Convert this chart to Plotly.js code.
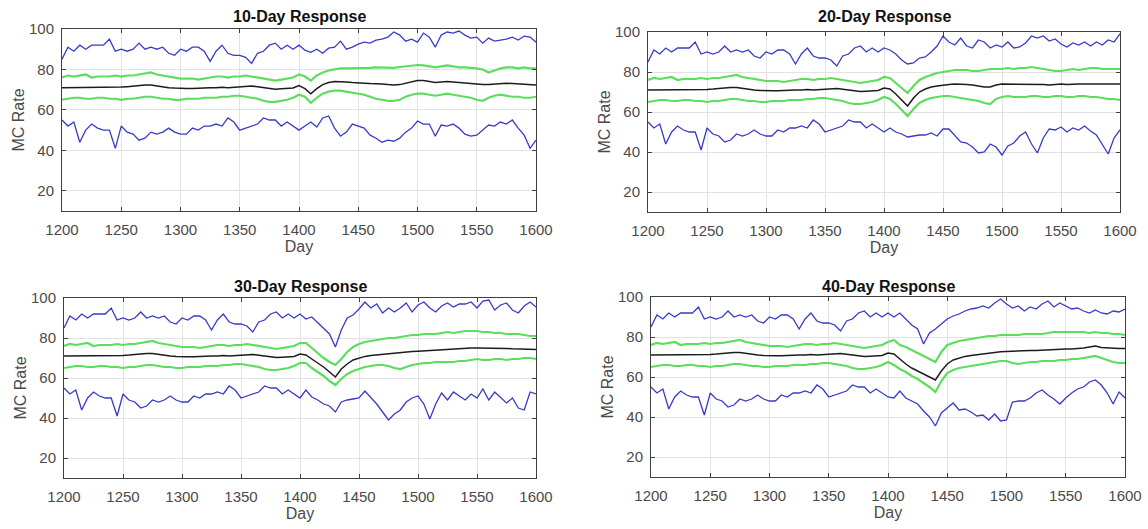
<!DOCTYPE html>
<html><head><meta charset="utf-8">
<script src="https://cdn.plot.ly/plotly-3.0.1.min.js"></script>
<style>html,body{margin:0;padding:0;background:#fff}#chart{width:1148px;height:529px}</style>
</head><body><div id="chart"></div>
<script>
// Days (x values)
const daysBase = [1200,1205,1210,1215,1220,1225,1230,1235,1240,1245,1250,1255,1260,1265,1270,1275,1280,1285,1290,1295,1300,1305,1310,1315,1320,1325,1330,1335,1340,1345,1350,1355,1360,1365,1370,1375,1380,1385,1390,1395,1400];
const daysTail = [1405,1410,1415,1420,1425,1430,1435,1440,1445,1450,1455,1460,1465,1470,1475,1480,1485,1490,1495,1500,1505,1510,1515,1520,1525,1530,1535,1540,1545,1550,1555,1560,1565,1570,1575,1580,1585,1590,1595,1600];

// Shared history 1200-1400 (identical in all four panels)
const baseUpperBlue  = [85,91,89,92,90,92,92,92,95,89,90,89,90,93,90,91,90,91,88,87,90,89,91,91,89,84,89,92,88,87,87,86,83,88,89,92,93,90,92,90,92];
const baseUpperGreen = [76,77,76.5,77,77.5,76,76.5,76.5,76.5,77,76.5,77,77,77.5,78,78.5,77.5,77,76.5,76,75.5,75.5,75.5,75,75.5,76,76.5,76.5,76,76.5,76.5,77,76.5,76,75.5,75,74.5,75,75.5,76,77.5];
const baseMean       = [71,71,71,71.3,71,71,71,71.2,71.3,71.3,71.3,71.5,71.8,72,72.3,72.3,71.8,71.3,71,70.8,70.6,70.6,70.6,70.8,71,71,71,71.2,71,71.2,71.4,71.6,71.8,71.4,71,70.5,70.2,70.4,70.5,70.8,72];
const baseLowerGreen = [65,65.5,66,66,65.5,65.5,66,66,65.5,65.5,65,65.5,65.5,66,66.5,66.5,66,65.5,65.5,65,65,65.5,65.5,65.5,66,66,66,66.5,66.5,67,67,66.5,66,65.5,64.5,64,64,64.5,65,66,67.5];
const baseLowerBlue  = [55,52,54,44,50,53,51,50,50,41,52,49,48,45,46,49,48,49,51,49,48,48,51,50,52,52,53,52,56,54,50,51,52,53,56,55,55,52,54,52,50];

// 10-Day response, 1405-1600
const p10UpperBlue  = [89.5,88.5,90,88,90.5,91,94,90,91,92.5,93.5,93,94.5,95,96,98.5,97,94,95,93.5,98,96,91,97,98.5,98,99,97,95.5,96,93,95.5,94,94.5,95,96,94.5,96.5,96,93.5];
const p10UpperGreen = [76.5,74.5,77,78.5,79.5,80,80.5,80.5,80.5,80.5,80.5,80.8,81,81,81,80.8,81.2,81.5,82,82.2,82,81.5,81,81.5,82,81.5,81,81,80.8,80.5,80,78.5,79.5,80.5,81,81,80.5,81,80.5,80.5];
const p10Mean       = [70.5,68,70.5,72.5,73.5,74,74,73.8,73.5,73.5,73.2,73,73,72.8,72.5,72.3,72.5,73.2,74,74.5,74.5,74,73.5,73.8,74,73.8,73.5,73.2,73,72.5,72.5,72.5,72.8,73,73.2,73,72.8,72.5,72.3,72.3];
const p10LowerGreen = [66.5,63.5,66,68,69,69.5,69.5,69,68.5,68,67.5,66.5,65.5,65,64.5,64.5,65,66.5,67.5,68,68,67.5,67,67.5,68,67.5,67,66.5,66,65,64.5,66,67,67.5,67,66.5,66.5,66,66,66.5];
const p10LowerBlue  = [52,54,51.5,56,57,51,47,49,53,52,51,47.5,46,44,45,44.5,46,49,51,54.5,53,53,47,52.5,52,53,51,48,47,47.5,50,52.5,52,54,53,55,51,47.5,41,45];

// 20-Day response, 1405-1600
const p20UpperBlue  = [91,89,86,84,84.5,87,87.5,90,93,98,95,93.5,97,93,92,96,95,92,93.5,92.5,95,92,92.5,94.5,98,97,98,95.5,96.5,94,92.5,94.5,93.5,95,93,95,93.5,96,95,99];
const p20UpperGreen = [77,74.5,72,69.5,73,76,77.5,78.5,79.5,80,80.5,81,81,81,80.5,80.5,81,81.5,81.5,81.5,82,81.5,82,82,82.5,82,81.5,81,80.5,80.5,81,81.5,81,81.5,82,82,81.5,81.5,81.5,81.5];
const p20Mean       = [71.5,69,66,63,67,70,71.5,72.5,73,73.5,73.8,74,74,73.8,73.5,73,72.5,72.5,73.5,74,74,74,74,74,74,74,73.8,73.5,73.8,74,73.8,74,74,74,74,74,74,74,74,74];
const p20LowerGreen = [66.5,64,61,58,61.5,64.5,66,67,67.5,68,68,67.5,67,66.5,66,65.5,64.5,64,66.5,67.5,68,67.5,67.5,67.5,68,68,67.5,67.5,68,68,67.5,67.5,68,68,67.5,67.5,67,66.5,66.5,66];
const p20LowerBlue  = [52,50,49,47.5,48,48.5,48.5,49.5,48,51.5,51.5,48,45,44.5,42.5,39.5,40,44,42.5,38.5,43,44.5,48,50,44,39.5,47,51.5,51,52.5,50,52,51,53,50.5,48.5,44,39,47,51];

// 30-Day response, 1405-1600
const p30UpperBlue  = [89.5,90.5,87.5,85,82,75.5,84,90,91.5,94.5,98,95,97,92.5,95,93,95,97.5,93,96.5,98,95,93,96,97.5,95.5,97,97,98,95,98.5,99,94,96.5,97.5,94,92.5,96,98,95.5];
const p30UpperGreen = [77.5,75,72.5,70,68,66.5,69.5,73,75.5,77,78,78.5,79,79.5,80,80,80.5,81,81.5,81.5,82,82,82,82.5,83,82.5,83,83.5,83.5,83.5,83,83,82.5,82.5,82,82,82,81.5,81,81];
const p30Mean       = [71.5,69.5,67.5,65.5,63,60.5,64.5,67,69,70,70.8,71.3,71.6,72,72.2,72.5,72.7,73,73.2,73.4,73.6,73.8,74,74.2,74.4,74.6,74.8,75,75,75,75,75,75,75,74.8,74.6,74.5,74.3,74.2,74.2];
const p30LowerGreen = [67.5,65,63,61,58.5,56.5,59.5,62,63.5,64.5,65.5,66,66.5,66.5,66,65,64.5,65.5,66.5,67,67.5,67.5,68,68,68,68,68.5,68.5,69,69.5,69,69,69.5,69.5,69,69.5,69.5,70,70,69.5];
const p30LowerBlue  = [54,50.5,49,47,46,43,48,49,49.5,50,53.5,50.5,47,43,39,42,44,48,50,51,47,39.5,47,52.5,49,53,51,49,52,50,54.5,49,53,50,47.5,50,45,44,53,52];

// 40-Day response, 1405-1600
const p40UpperBlue  = [90,92,89,86,84,76.5,82,84,86.5,89,90.5,91.5,93,94,94.5,95.5,94.5,97,99,96.5,94.5,95.5,93,95,94,96.5,98,95,97,95.5,94,94.5,93,92,93.5,92,91.5,93,92.5,94];
const p40UpperGreen = [78.5,76,75,73.5,72,70.5,69,67.5,72.5,76,77,78,78.5,79,79.5,80,80.5,80.5,81,81,81,81,81.5,81.5,81.5,81.5,82,82.5,82.5,82.5,82.5,82.5,82.5,82,82.5,82,82,81.5,81.5,81];
const p40Mean       = [71.5,69,66.5,64.5,63,61.5,60,58.5,63,66.5,68.5,69.5,70.3,70.8,71.2,71.5,72,72.3,72.6,72.8,73,73,73.2,73.3,73.3,73.5,73.5,73.8,73.8,74,74,74.2,74.5,75,75.5,74.8,74.5,74.3,74.2,74.2];
const p40LowerGreen = [66,64,62.5,60.5,59,57,55,52.5,58,62,63.5,64.5,65,65.5,66,66.5,67,67.5,68,68,67,66.5,67,67.5,67.5,68,68,68,68.5,68.5,69,69,69.5,70,70.5,69.5,68.5,67.5,67,67];
const p40LowerBlue  = [49.5,53,49.5,48,46.5,43,40,35.5,42,44.5,47,43.5,44,42.5,40.5,41,38.5,41.5,38,38.5,47.5,48,48,49.5,52,53.5,51,49,46.5,49.5,52,54,55,57.5,58.5,56,52,46.5,52.5,49.5];

const panelTitles = ['10-Day Response','20-Day Response','30-Day Response','40-Day Response'];
const xTicks = [1200,1250,1300,1350,1400,1450,1500,1550,1600];
const yTicks = [20,40,60,80,100];

const panels = [
  {up:p10UpperBlue, ug:p10UpperGreen, m:p10Mean, lg:p10LowerGreen, lb:p10LowerBlue},
  {up:p20UpperBlue, ug:p20UpperGreen, m:p20Mean, lg:p20LowerGreen, lb:p20LowerBlue},
  {up:p30UpperBlue, ug:p30UpperGreen, m:p30Mean, lg:p30LowerGreen, lb:p30LowerBlue},
  {up:p40UpperBlue, ug:p40UpperGreen, m:p40Mean, lg:p40LowerGreen, lb:p40LowerBlue}
];

const BLUE = '#3a3ac8', GREEN = '#5cde5c', BLACK = '#1c1c1c';
const FONT = 'Liberation Sans, Arial, sans-serif';

const domains = [
  {x:[62/1148, 536/1148],  y:[(529-211)/529, (529-29)/529]},
  {x:[648/1148, 1120/1148], y:[(529-212)/529, (529-32)/529]},
  {x:[64/1148, 536/1148],  y:[(529-478)/529, (529-298)/529]},
  {x:[651/1148, 1125/1148], y:[(529-477)/529, (529-297)/529]}
];
const titleY = [17, 17, 286, 286];

const days = daysBase.concat(daysTail);
const traces = [];
const layout = {
  width:1148, height:529, margin:{l:0,r:0,t:0,b:0},
  paper_bgcolor:'#fff', plot_bgcolor:'#fff', showlegend:false,
  font:{family:FONT, color:'#444'}, annotations:[]
};

panels.forEach((p, i) => {
  const n = i === 0 ? '' : String(i + 1);
  const xa = 'x' + n, ya = 'y' + n;
  const series = [
    [baseUpperBlue.concat(p.up), BLUE, 1.3],
    [baseLowerBlue.concat(p.lb), BLUE, 1.3],
    [baseUpperGreen.concat(p.ug), GREEN, 2.2],
    [baseLowerGreen.concat(p.lg), GREEN, 2.2],
    [baseMean.concat(p.m), BLACK, 1.5]
  ];
  series.forEach(s => traces.push({
    type:'scatter', mode:'lines', x:days, y:s[0], xaxis:xa, yaxis:ya,
    line:{color:s[1], width:s[2]}, hoverinfo:'skip'
  }));
  const common = {
    showgrid:true, gridcolor:'#e2e2e2', gridwidth:1, zeroline:false,
    showline:true, linecolor:'#404040', linewidth:1, mirror:'ticks',
    ticks:'inside', ticklen:4, tickcolor:'#404040',
    tickfont:{family:FONT, size:15, color:'#4a4a4a'}
  };
  layout['xaxis' + n] = Object.assign({}, common, {
    domain:domains[i].x, anchor:ya, range:[1200,1600], tickvals:xTicks,
    ticklabelstandoff:5,
    title:{text:'Day', font:{family:FONT, size:16, color:'#4a4a4a'}, standoff:2}
  });
  layout['yaxis' + n] = Object.assign({}, common, {
    domain:domains[i].y, anchor:xa, range:[10,100], tickvals:yTicks,
    ticklabelstandoff:4,
    title:{text:'MC Rate', font:{family:FONT, size:16, color:'#4a4a4a'}, standoff:0}
  });
  layout.annotations.push({
    text:'<b>' + panelTitles[i] + '</b>', xref:'paper', yref:'paper',
    x:(domains[i].x[0] + domains[i].x[1]) / 2, y:1 - titleY[i] / 529,
    xanchor:'center', yanchor:'middle', showarrow:false,
    font:{family:FONT, size:16, color:'#111'}
  });
});

Plotly.newPlot('chart', traces, layout, {staticPlot:true, displayModeBar:false});
</script>
</body></html>
